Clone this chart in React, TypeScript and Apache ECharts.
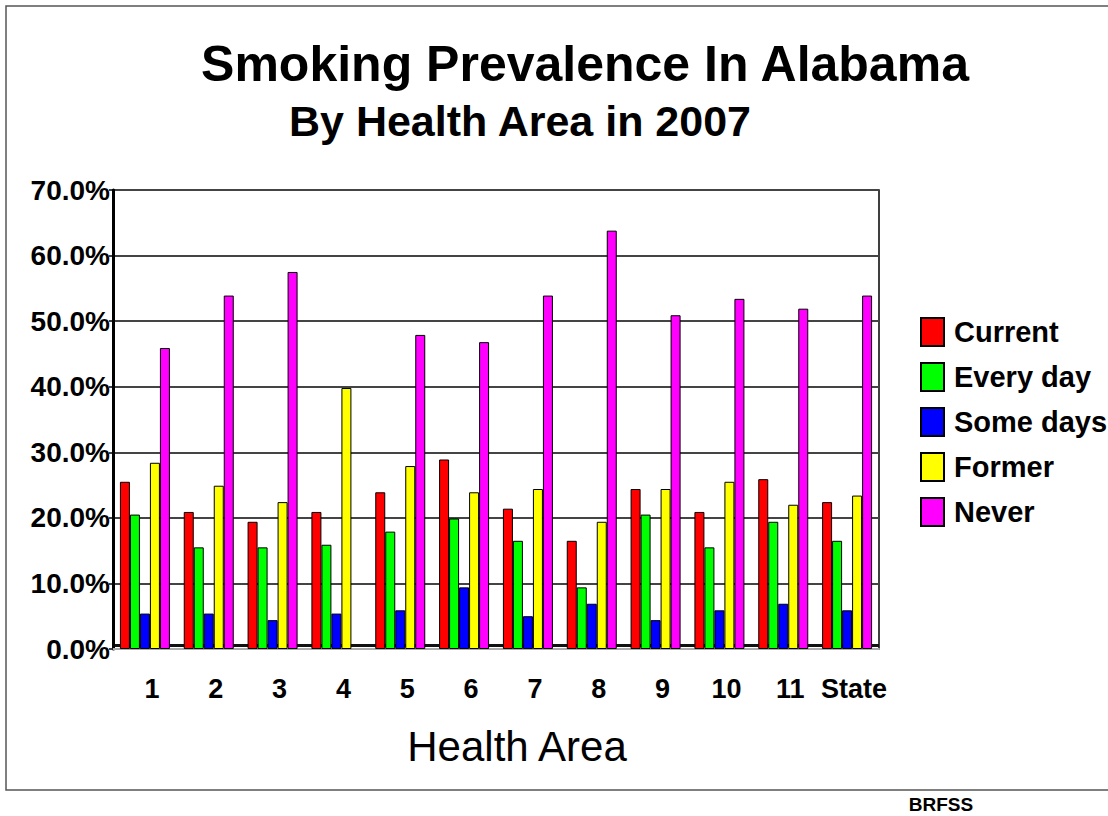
import React, { useEffect, useRef } from "react";
import * as echarts from "echarts";

// Health areas along the x axis
const categories = ["1", "2", "3", "4", "5", "6", "7", "8", "9", "10", "11", "State"];

// Smoking status percentages per health area (2007)
const current = [25.5, 20.9, 19.4, 20.9, 23.9, 28.9, 21.4, 16.5, 24.4, 20.9, 25.9, 22.4];
const everyDay = [20.5, 15.5, 15.5, 15.9, 17.9, 19.9, 16.5, 9.4, 20.5, 15.5, 19.4, 16.5];
const someDays = [5.4, 5.4, 4.4, 5.4, 5.9, 9.4, 5.0, 6.9, 4.4, 5.9, 6.9, 5.9];
const former = [28.4, 24.9, 22.4, 39.8, 27.9, 23.9, 24.4, 19.4, 24.4, 25.5, 22.0, 23.4];
const never = [45.9, 53.9, 57.5, null, 47.9, 46.8, 53.9, 63.8, 50.9, 53.4, 51.9, 53.9];

const seriesNames = ["Current", "Every day", "Some days", "Former", "Never"];
const seriesColors = ["#ff0000", "#00ff00", "#0000ff", "#ffff00", "#ff00ff"];
const seriesValues = [current, everyDay, someDays, former, never];

const FONT = '"Liberation Sans", Arial, Helvetica, sans-serif';

export default function App() {
  const ref = useRef<HTMLDivElement>(null);

  useEffect(() => {
    if (!ref.current) return;
    const chart = echarts.init(ref.current, null, { renderer: "svg" });

    const option: any = {
      animation: false,
      backgroundColor: "#ffffff",
      grid: {
        left: 113,
        right: 229,
        top: 190,
        bottom: 167,
        show: true,
        borderColor: "#000",
        borderWidth: 1.5,
        backgroundColor: "transparent",
      },
      legend: {
        orient: "vertical",
        left: 920,
        top: 317,
        padding: 0,
        itemWidth: 23,
        itemHeight: 28,
        itemGap: 15,
        icon: "rect",
        data: seriesNames,
        textStyle: {
          fontFamily: FONT,
          fontWeight: "bold",
          fontSize: 29,
          color: "#000",
          padding: [0, 0, 0, 5],
        },
      },
      xAxis: {
        type: "category",
        data: categories,
        offset: 2,
        axisTick: { show: false },
        axisLine: { show: true, lineStyle: { color: "#aaa", width: 2 } },
        axisLabel: {
          interval: 0,
          margin: 24,
          fontFamily: FONT,
          fontWeight: "bold",
          fontSize: 27,
          color: "#000",
          padding: [0, 0, 0, 14],
        },
      },
      yAxis: {
        type: "value",
        min: 0,
        max: 70,
        interval: 10,
        axisLine: { show: true, lineStyle: { color: "#000", width: 3 } },
        axisTick: { show: true, length: 4, lineStyle: { color: "#000", width: 1.5 } },
        splitLine: { show: true, lineStyle: { color: "#444", width: 2 } },
        axisLabel: {
          margin: 3,
          fontFamily: FONT,
          fontWeight: "bold",
          fontSize: 28,
          color: "#000",
          formatter: (v: number) => v.toFixed(1) + "%",
        },
      },
      series: seriesNames.map((name, i) => ({
        name,
        type: "bar",
        data: seriesValues[i],
        barWidth: 10,
        barGap: "0%",
        itemStyle: {
          color: seriesColors[i],
          borderColor: "#000",
          borderWidth: 1,
        },
      })),
      graphic: [
        {
          type: "rect",
          z: -10,
          shape: { x: 6, y: 6, width: 1110, height: 784 },
          style: { fill: "transparent", stroke: "#555", lineWidth: 1.5 },
        },
        {
          type: "rect",
          z: 0,
          shape: { x: 115, y: 644, width: 764, height: 3 },
          style: { fill: "#111" },
        },
        {
          type: "text",
          x: 585,
          y: 64,
          style: {
            text: "Smoking Prevalence In Alabama",
            font: `bold 50px ${FONT}`,
            fill: "#000",
            align: "center",
            verticalAlign: "middle",
          },
        },
        {
          type: "text",
          x: 520,
          y: 121,
          style: {
            text: "By Health Area in 2007",
            font: `bold 43px ${FONT}`,
            fill: "#000",
            align: "center",
            verticalAlign: "middle",
          },
        },
        {
          type: "text",
          x: 517,
          y: 746,
          style: {
            text: "Health Area",
            font: `42px ${FONT}`,
            fill: "#000",
            align: "center",
            verticalAlign: "middle",
          },
        },
        {
          type: "text",
          x: 941,
          y: 804,
          style: {
            text: "BRFSS",
            font: `bold 19px ${FONT}`,
            fill: "#000",
            align: "center",
            verticalAlign: "middle",
          },
        },
      ],
    };

    chart.setOption(option);
    return () => chart.dispose();
  }, []);

  return (
    <div
      ref={ref}
      style={{ position: "fixed", left: 0, top: 0, width: 1108, height: 816, background: "#fff" }}
    />
  );
}
